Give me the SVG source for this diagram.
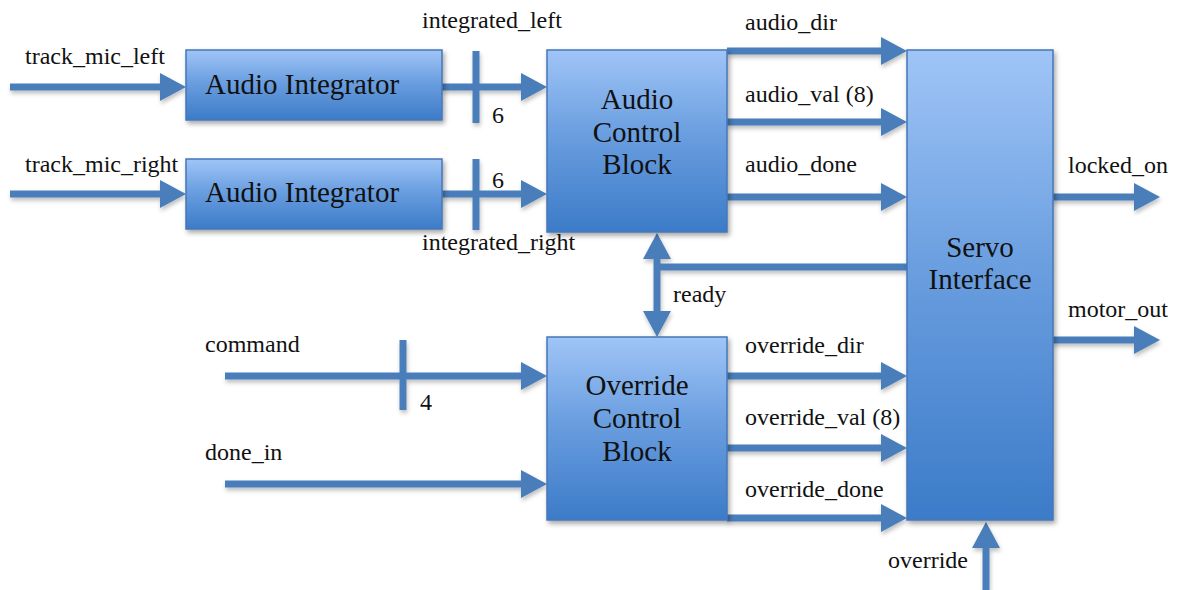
<svg xmlns="http://www.w3.org/2000/svg" width="1178" height="590" viewBox="0 0 1178 590">
<style>
  .lbl { font-family: "Liberation Serif", "DejaVu Serif", serif; font-size: 24px; fill: #111; }
  .ttl { font-family: "Liberation Serif", "DejaVu Serif", serif; font-size: 29px; fill: #111; }
  .mid { text-anchor: middle; }
  .box { fill: url(#boxGrad); stroke: #4577b8; stroke-width: 1.5; filter: url(#shadow); }
  .wire { fill: none; stroke: #4a7ebb; stroke-width: 7; }
  .arr { marker-end: url(#ah); }
  .tick { stroke: #4a7ebb; stroke-width: 7; }
</style>
<defs>
  <linearGradient id="boxGrad" x1="0" y1="0" x2="0" y2="1">
    <stop offset="0" stop-color="#a0c5f7"/>
    <stop offset="0.45" stop-color="#6b9fe0"/>
    <stop offset="1" stop-color="#3c7bc8"/>
  </linearGradient>
  <filter id="shadow" x="-10%" y="-10%" width="130%" height="130%">
    <feDropShadow dx="2" dy="3" stdDeviation="2.5" flood-color="#000" flood-opacity="0.35"/>
  </filter>
  <filter id="lshadow" x="-5%" y="-5%" width="110%" height="120%">
    <feDropShadow dx="1" dy="3" stdDeviation="2" flood-color="#000" flood-opacity="0.25"/>
  </filter>
  <marker id="ah" markerUnits="userSpaceOnUse" markerWidth="27" markerHeight="30" refX="0" refY="15" orient="auto-start-reverse" viewBox="0 0 27 30">
    <path d="M0,1 L26,15 L0,29 Z" fill="#4a7ebb"/>
  </marker>
</defs>

<g id="connectors" filter="url(#lshadow)">
  <path class="wire arr" d="M10,87 H160"/>
  <path class="wire arr" d="M10,194 H160"/>
  <path class="wire arr" d="M442,87 H521"/>
  <line class="tick" x1="476" y1="51" x2="476" y2="123"/>
  <path class="wire arr" d="M442,194 H521"/>
  <line class="tick" x1="476" y1="159" x2="476" y2="230"/>
  <path class="wire arr" d="M727,51 H881"/>
  <path class="wire arr" d="M727,122 H881"/>
  <path class="wire arr" d="M727,197 H881"/>
  <path class="wire arr" d="M1052,197 H1134"/>
  <path class="wire arr" d="M1052,340 H1134"/>
  <path class="wire" d="M907,267 H657"/>
  <path class="wire" d="M657,259 V311" marker-start="url(#ah)" marker-end="url(#ah)"/>
  <path class="wire arr" d="M225,376 H521"/>
  <line class="tick" x1="403" y1="340" x2="403" y2="410"/>
  <path class="wire arr" d="M225,484 H521"/>
  <path class="wire arr" d="M727,376 H881"/>
  <path class="wire arr" d="M727,448 H881"/>
  <path class="wire arr" d="M727,518 H881"/>
  <path class="wire arr" d="M986,590 V548"/>
</g>

<g id="labels">
  <text class="lbl" x="25" y="64">track_mic_left</text>
  <text class="lbl" x="25" y="172">track_mic_right</text>
  <text class="lbl" x="422" y="28">integrated_left</text>
  <text class="lbl" x="422" y="250">integrated_right</text>
  <text class="lbl" x="492" y="123">6</text>
  <text class="lbl" x="492" y="188">6</text>
  <text class="lbl" x="745" y="30">audio_dir</text>
  <text class="lbl" x="745" y="102">audio_val (8)</text>
  <text class="lbl" x="745" y="172">audio_done</text>
  <text class="lbl" x="1068" y="173">locked_on</text>
  <text class="lbl" x="1068" y="317">motor_out</text>
  <text class="lbl" x="673" y="302">ready</text>
  <text class="lbl" x="205" y="352">command</text>
  <text class="lbl" x="420" y="410">4</text>
  <text class="lbl" x="205" y="460">done_in</text>
  <text class="lbl" x="745" y="353">override_dir</text>
  <text class="lbl" x="745" y="425">override_val (8)</text>
  <text class="lbl" x="745" y="497">override_done</text>
  <text class="lbl" x="888" y="568">override</text>
</g>

<g id="audio_integrator_left">
  <rect class="box" x="186" y="50" width="256" height="70"/>
  <text class="ttl" x="205" y="94">Audio Integrator</text>
</g>
<g id="audio_integrator_right">
  <rect class="box" x="186" y="159" width="256" height="70"/>
  <text class="ttl" x="205" y="202">Audio Integrator</text>
</g>
<g id="audio_control_block">
  <rect class="box" x="547" y="50" width="180" height="182"/>
  <text class="ttl mid" x="637" y="109">Audio</text>
  <text class="ttl mid" x="637" y="142">Control</text>
  <text class="ttl mid" x="637" y="174">Block</text>
</g>
<g id="override_control_block">
  <rect class="box" x="547" y="337" width="180" height="183"/>
  <text class="ttl mid" x="637" y="395">Override</text>
  <text class="ttl mid" x="637" y="428">Control</text>
  <text class="ttl mid" x="637" y="461">Block</text>
</g>
<g id="servo_interface">
  <rect class="box" x="907" y="50" width="146" height="470"/>
  <text class="ttl mid" x="980" y="257">Servo</text>
  <text class="ttl mid" x="980" y="289">Interface</text>
</g>
</svg>
